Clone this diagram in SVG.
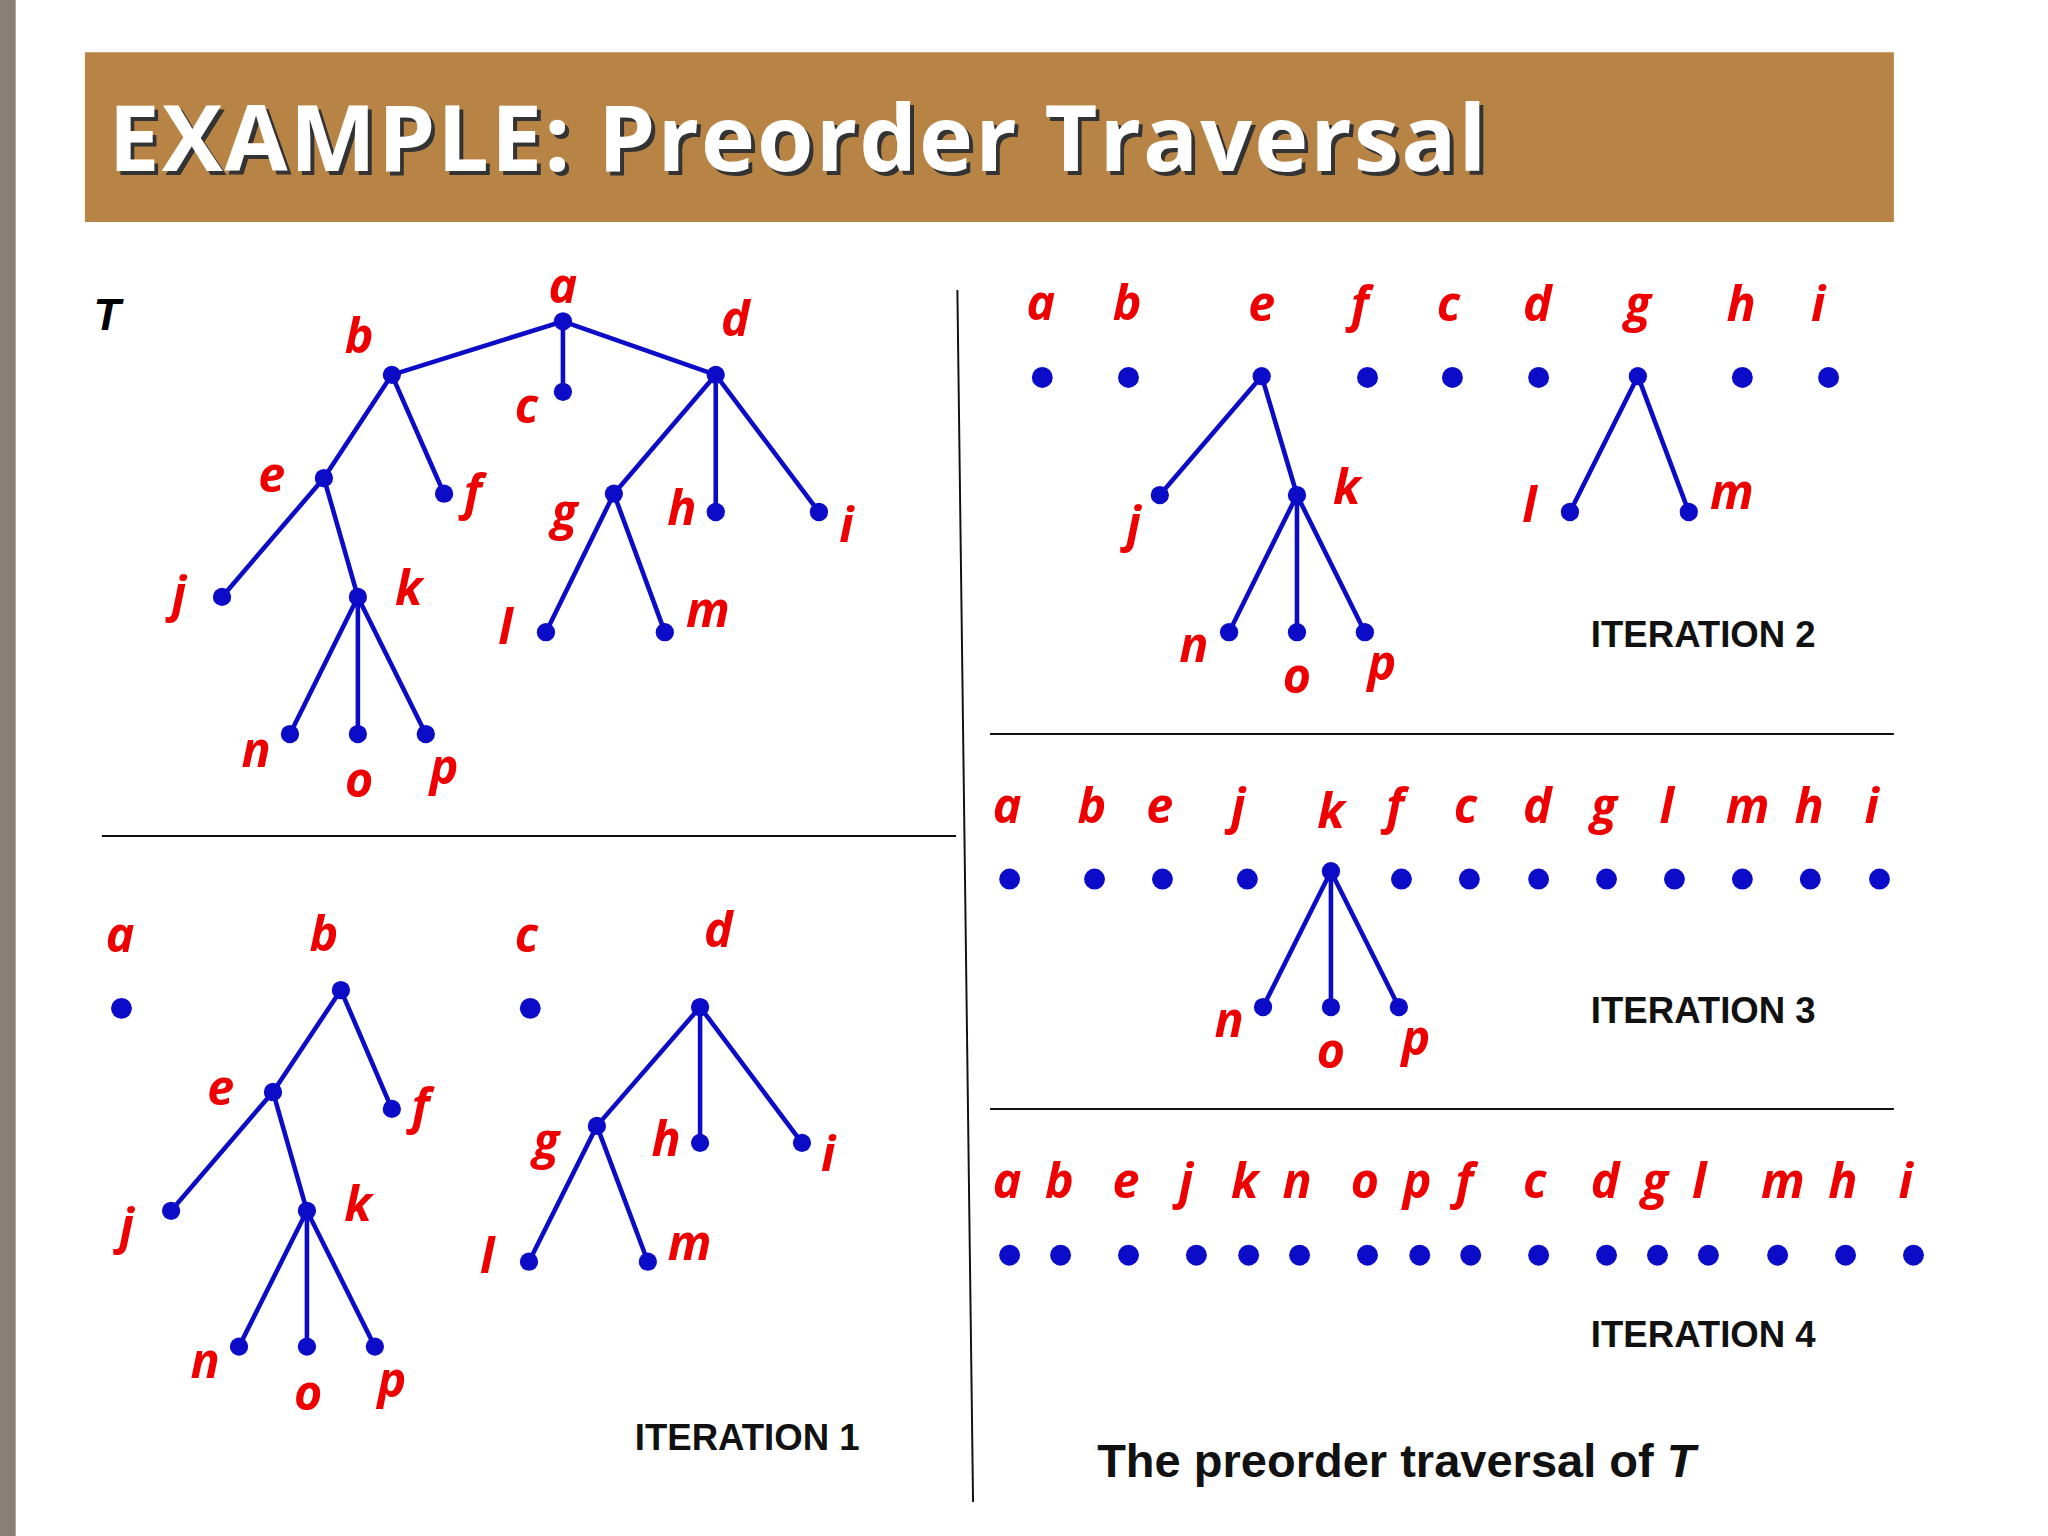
<svg xmlns="http://www.w3.org/2000/svg" width="2048" height="1536" viewBox="0 0 2048 1536">
<style>
.l{font-family:"Open Sans","DejaVu Sans",sans-serif;font-weight:bold;font-style:italic;font-size:37px;fill:#ee0000;text-anchor:middle;dominant-baseline:middle}
.it{font-family:"Liberation Sans",Arial,sans-serif;font-weight:bold;font-size:28px;fill:#111}
.e{stroke:#0b0bc8;stroke-width:3.5;fill:none}
.d{fill:#0b0bc8}
.s{stroke:#111;stroke-width:1.5}
</style>
<rect width="2048" height="1536" fill="#fff"/>
<g transform="scale(1.30612)">
<rect x="0" y="0" width="12" height="1176" fill="#8a7f78"/>
<rect x="65" y="40" width="1385" height="130" fill="#b88445"/>
<text x="86" y="134" font-family="Open Sans,DejaVu Sans,sans-serif" font-weight="bold" font-size="70" fill="#333" textLength="1055">EXAMPLE: Preorder Traversal</text>
<text x="83" y="131" font-family="Open Sans,DejaVu Sans,sans-serif" font-weight="bold" font-size="70" fill="#fff" textLength="1055">EXAMPLE: Preorder Traversal</text>
<g id="dividers">
<line class="s" x1="733" y1="222" x2="745" y2="1150"/>
<line class="s" x1="78" y1="640" x2="732" y2="640"/>
<line class="s" x1="758" y1="562" x2="1450" y2="562"/>
<line class="s" x1="758" y1="849" x2="1450" y2="849"/>
</g>
<g id="connectors">
<path class="e" d="M300,287L431,246L548,287M431,246V300M300,287L248,366M300,287L340,378M248,366L170,457M248,366L274,457M274,457L222,562M274,457V562M274,457L326,562M548,287L470,378M548,287V392M548,287L627,392M470,378L418,484M470,378L509,484"/>
<path class="e" d="M261,758L209,836M261,758L300,849M209,836L131,927M209,836L235,927M235,927L183,1031M235,927V1031M235,927L287,1031M536,771L457,862M536,771V875M536,771L614,875M457,862L405,966M457,862L496,966"/>
<path class="e" d="M966,288L888,379M966,288L993,379M993,379L941,484M993,379V484M993,379L1045,484M1254,288L1202,392M1254,288L1293,392"/>
<path class="e" d="M1019,667L967,771M1019,667V771M1019,667L1071,771"/>
</g>
<g id="nodes" class="d">
<circle cx="431" cy="246" r="7"/><circle cx="300" cy="287" r="7"/><circle cx="431" cy="300" r="7"/><circle cx="548" cy="287" r="7"/><circle cx="248" cy="366" r="7"/><circle cx="340" cy="378" r="7"/><circle cx="470" cy="378" r="7"/><circle cx="548" cy="392" r="7"/><circle cx="627" cy="392" r="7"/><circle cx="170" cy="457" r="7"/><circle cx="274" cy="457" r="7"/><circle cx="418" cy="484" r="7"/><circle cx="509" cy="484" r="7"/><circle cx="222" cy="562" r="7"/><circle cx="274" cy="562" r="7"/><circle cx="326" cy="562" r="7"/>
<circle cx="93" cy="772" r="8"/><circle cx="261" cy="758" r="7"/><circle cx="209" cy="836" r="7"/><circle cx="300" cy="849" r="7"/><circle cx="131" cy="927" r="7"/><circle cx="235" cy="927" r="7"/><circle cx="183" cy="1031" r="7"/><circle cx="235" cy="1031" r="7"/><circle cx="287" cy="1031" r="7"/><circle cx="406" cy="772" r="8"/><circle cx="536" cy="771" r="7"/><circle cx="457" cy="862" r="7"/><circle cx="536" cy="875" r="7"/><circle cx="614" cy="875" r="7"/><circle cx="405" cy="966" r="7"/><circle cx="496" cy="966" r="7"/>
<circle cx="798" cy="289" r="8"/><circle cx="864" cy="289" r="8"/><circle cx="966" cy="288" r="7"/><circle cx="1047" cy="289" r="8"/><circle cx="1112" cy="289" r="8"/><circle cx="1178" cy="289" r="8"/><circle cx="1254" cy="288" r="7"/><circle cx="1334" cy="289" r="8"/><circle cx="1400" cy="289" r="8"/><circle cx="888" cy="379" r="7"/><circle cx="993" cy="379" r="7"/><circle cx="941" cy="484" r="7"/><circle cx="993" cy="484" r="7"/><circle cx="1045" cy="484" r="7"/><circle cx="1202" cy="392" r="7"/><circle cx="1293" cy="392" r="7"/>
<circle cx="773" cy="673" r="8"/><circle cx="838" cy="673" r="8"/><circle cx="890" cy="673" r="8"/><circle cx="955" cy="673" r="8"/><circle cx="1019" cy="667" r="7"/><circle cx="1073" cy="673" r="8"/><circle cx="1125" cy="673" r="8"/><circle cx="1178" cy="673" r="8"/><circle cx="1230" cy="673" r="8"/><circle cx="1282" cy="673" r="8"/><circle cx="1334" cy="673" r="8"/><circle cx="1386" cy="673" r="8"/><circle cx="1439" cy="673" r="8"/><circle cx="967" cy="771" r="7"/><circle cx="1019" cy="771" r="7"/><circle cx="1071" cy="771" r="7"/>
<circle cx="773" cy="961" r="8"/><circle cx="812" cy="961" r="8"/><circle cx="864" cy="961" r="8"/><circle cx="916" cy="961" r="8"/><circle cx="956" cy="961" r="8"/><circle cx="995" cy="961" r="8"/><circle cx="1047" cy="961" r="8"/><circle cx="1087" cy="961" r="8"/><circle cx="1126" cy="961" r="8"/><circle cx="1178" cy="961" r="8"/><circle cx="1230" cy="961" r="8"/><circle cx="1269" cy="961" r="8"/><circle cx="1308" cy="961" r="8"/><circle cx="1361" cy="961" r="8"/><circle cx="1413" cy="961" r="8"/><circle cx="1465" cy="961" r="8"/>
</g>
<g id="labels">
<text x="82" y="244" font-family="Liberation Sans,Arial,sans-serif" font-weight="bold" font-style="italic" font-size="34" text-anchor="middle" dominant-baseline="middle">T</text>
<text class="l" x="431" y="222">a</text><text class="l" x="275" y="260">b</text><text class="l" x="403" y="314">c</text><text class="l" x="563" y="247">d</text><text class="l" x="208" y="367">e</text><text class="l" x="362" y="380">f</text><text class="l" x="432" y="395">g</text><text class="l" x="522" y="392">h</text><text class="l" x="648" y="405">i</text><text class="l" x="137" y="458">j</text><text class="l" x="313" y="453">k</text><text class="l" x="387" y="483">l</text><text class="l" x="542" y="470">m</text><text class="l" x="196" y="577">n</text><text class="l" x="275" y="600">o</text><text class="l" x="340" y="590">p</text>
<text class="l" x="92" y="719">a</text><text class="l" x="248" y="718">b</text><text class="l" x="169" y="836">e</text><text class="l" x="322" y="850">f</text><text class="l" x="97" y="942">j</text><text class="l" x="274" y="925">k</text><text class="l" x="157" y="1045">n</text><text class="l" x="236" y="1070">o</text><text class="l" x="300" y="1060">p</text><text class="l" x="403" y="719">c</text><text class="l" x="550" y="715">d</text><text class="l" x="418" y="877">g</text><text class="l" x="510" y="875">h</text><text class="l" x="634" y="887">i</text><text class="l" x="373" y="965">l</text><text class="l" x="528" y="955">m</text>
<text class="l" x="797" y="235">a</text><text class="l" x="863" y="235">b</text><text class="l" x="966" y="236">e</text><text class="l" x="1041" y="236">f</text><text class="l" x="1109" y="236">c</text><text class="l" x="1177" y="236">d</text><text class="l" x="1254" y="236">g</text><text class="l" x="1333" y="236">h</text><text class="l" x="1392" y="236">i</text><text class="l" x="868" y="404">j</text><text class="l" x="1031" y="376">k</text><text class="l" x="914" y="497">n</text><text class="l" x="993" y="521">o</text><text class="l" x="1058" y="511">p</text><text class="l" x="1171" y="390">l</text><text class="l" x="1326" y="380">m</text>
<text class="l" x="771" y="620">a</text><text class="l" x="836" y="620">b</text><text class="l" x="888" y="620">e</text><text class="l" x="948" y="620">j</text><text class="l" x="1019" y="624">k</text><text class="l" x="1068" y="620">f</text><text class="l" x="1122" y="620">c</text><text class="l" x="1177" y="620">d</text><text class="l" x="1228" y="620">g</text><text class="l" x="1276" y="620">l</text><text class="l" x="1338" y="620">m</text><text class="l" x="1385" y="620">h</text><text class="l" x="1433" y="620">i</text><text class="l" x="941" y="784">n</text><text class="l" x="1019" y="808">o</text><text class="l" x="1084" y="798">p</text>
<text class="l" x="771" y="907">a</text><text class="l" x="811" y="907">b</text><text class="l" x="862" y="907">e</text><text class="l" x="908" y="907">j</text><text class="l" x="953" y="907">k</text><text class="l" x="993" y="907">n</text><text class="l" x="1045" y="907">o</text><text class="l" x="1085" y="907">p</text><text class="l" x="1121" y="907">f</text><text class="l" x="1175" y="907">c</text><text class="l" x="1229" y="907">d</text><text class="l" x="1267" y="907">g</text><text class="l" x="1301" y="907">l</text><text class="l" x="1365" y="907">m</text><text class="l" x="1411" y="907">h</text><text class="l" x="1459" y="907">i</text>
<text class="it" x="486" y="1110">ITERATION 1</text>
<text class="it" x="1218" y="495">ITERATION 2</text>
<text class="it" x="1218" y="783">ITERATION 3</text>
<text class="it" x="1218" y="1031">ITERATION 4</text>
<text x="840" y="1131" font-family="Liberation Sans,Arial,sans-serif" font-weight="bold" font-size="36" fill="#111">The preorder traversal of <tspan font-style="italic">T</tspan></text>
</g>
</g>
</svg>
